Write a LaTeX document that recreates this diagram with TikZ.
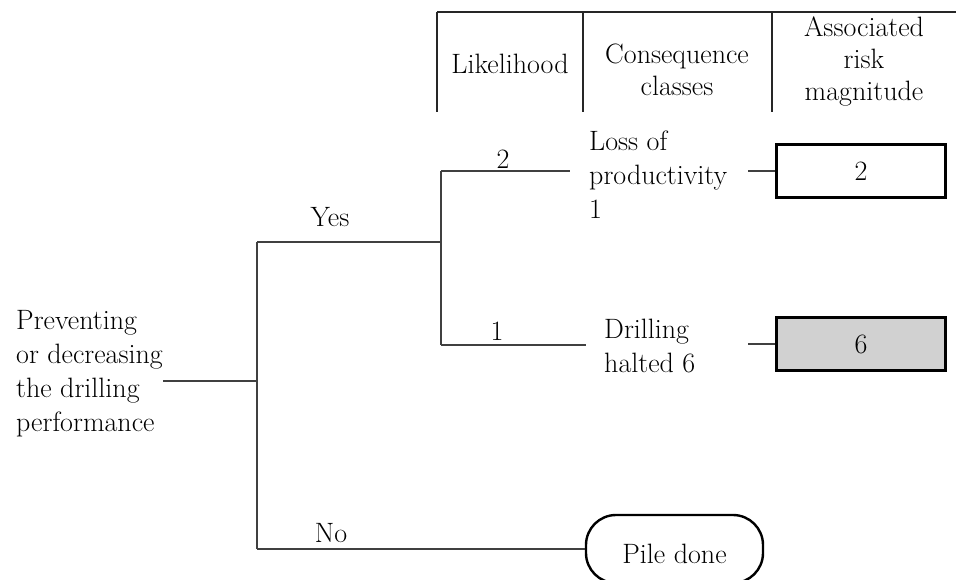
\documentclass[tikz,border=0pt]{standalone}
\begin{document}
\begin{tikzpicture}[x=1pt,y=-1pt,
  txt/.style={font=\fontsize{28}{34}\selectfont, inner sep=0pt},
  htxt/.style={font=\fontsize{28}{32}\selectfont, inner sep=0pt},
  branch/.style={draw=black!75, line width=1.4pt},
  tline/.style={draw=black!85, line width=1.3pt},
  riskbox/.style={draw=black, line width=2.4pt, minimum width=169pt, minimum height=53pt, font=\fontsize{28}{34}\selectfont},
  endbox/.style={draw=black, line width=2.4pt, rounded corners=30pt, minimum width=177pt, minimum height=68pt, text height=28pt, text depth=0pt, font=\fontsize{28}{34}\selectfont}
]
\clip (0,0) rectangle (956,579);
% header table
\coordinate (t0) at (437,12);
\coordinate (t1) at (956,12);
\coordinate (v1a) at (437,12); \coordinate (v1b) at (437,112);
\coordinate (v2a) at (583,12); \coordinate (v2b) at (583,112);
\coordinate (v3a) at (772,12); \coordinate (v3b) at (772,112);
\draw[tline] (t0) -- (t1);
\draw[tline] (v1a) -- (v1b);
\draw[tline] (v2a) -- (v2b);
\draw[tline] (v3a) -- (v3b);
\node[htxt, anchor=base] (hlik) at (510,73) {Likelihood};
\node[htxt, align=center] (hcon) at (677,69.5) {Consequence\\classes};
\node[htxt, align=center] (hrisk) at (864,61) {Associated\\risk\\magnitude};

% tree
\node[txt, align=left, anchor=west] (root) at (16,374) {Preventing\\or decreasing\\the drilling\\performance};
\coordinate (j0) at (257,381);
\coordinate (jtop) at (257,242);
\coordinate (jbot) at (257,549);
\coordinate (j1) at (441,242);
\coordinate (j1top) at (441,171);
\coordinate (j1bot) at (441,345);
\coordinate (e1) at (570,171);
\coordinate (e2) at (586,345);
\draw[branch] (root.east |- j0) -- (j0);
\draw[branch] (jtop) -- (jbot);
\draw[branch] (jtop) -- (j1);
\draw[branch] (j1top) -- (j1bot);
\draw[branch] (j1top) -- (e1);
\draw[branch] (j1bot) -- (e2);

\node[txt, anchor=base] (yes) at (330,226) {Yes};
\node[txt, anchor=base] (no) at (331,542) {No};
\node[txt, anchor=base] (l2) at (503,168) {2};
\node[txt, anchor=base] (l1) at (497,340) {1};

\node[txt, align=left, anchor=west] (c1) at (589,174.3) {Loss of\\productivity\\1};
\node[txt, align=left, anchor=west] (c2) at (604,346.3) {Drilling\\halted 6};

\node[riskbox] (r1) at (861,171) {2};
\node[riskbox, fill=black!18] (r2) at (861,344) {6};
\coordinate (s1) at (748,171);
\coordinate (s2) at (748,344);
\draw[branch] (s1) -- (r1.west);
\draw[branch] (s2) -- (r2.west);

\node[endbox] (pile) at (674.5,549) {Pile done};
\draw[branch] (jbot) -- (pile.west);
\end{tikzpicture}
\end{document}
